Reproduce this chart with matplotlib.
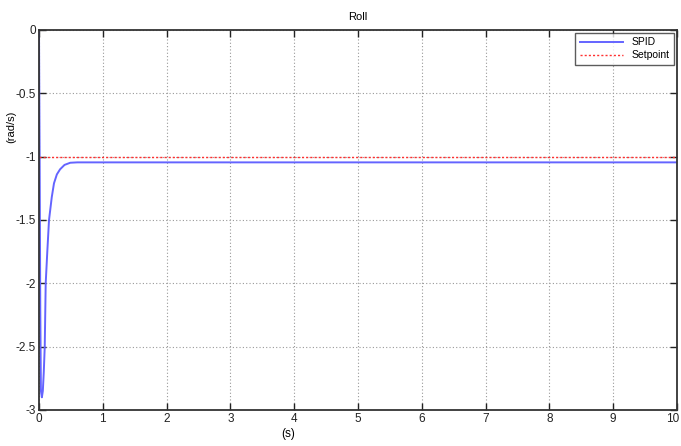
import matplotlib
matplotlib.use("Agg")
import matplotlib.pyplot as plt
import matplotlib.transforms as mtransforms
import numpy as np

plt.rcParams['font.family'] = ['Liberation Sans', 'DejaVu Sans']

t = [0, 0.01, 0.02, 0.03, 0.045, 0.06, 0.075, 0.09, 0.105, 0.13, 0.157, 0.2,
     0.235, 0.28, 0.33, 0.4, 0.49, 0.6, 10]
spid = [0, -1.0, -2.2, -2.85, -2.9, -2.85, -2.7, -2.5, -2.0, -1.75, -1.5, -1.32,
        -1.21, -1.14, -1.1, -1.065, -1.048, -1.045, -1.045]
setpoint_t = [0, 10]
setpoint = [-1, -1]
xticks = list(range(0, 11))
yticks = [0, -0.5, -1, -1.5, -2, -2.5, -3]
ytick_labels = ['0', '-0.5', '-1', '-1.5', '-2', '-2.5', '-3']

fig = plt.figure(figsize=(6.81, 4.46), dpi=100)
ax = fig.add_axes([39/681, 36/446, 638/681, 380/446])

ax.plot(t, spid, color='#6464ff', lw=1.4, label='SPID')
ax.plot(setpoint_t, setpoint, color='#ff3030', lw=1.0, ls=(0, (1.5, 1.5)), label='Setpoint')

ax.set_xlim(0, 10)
ax.set_ylim(-3, 0)
ax.set_xticks(xticks)
ax.set_yticks(yticks)
ax.set_yticklabels(ytick_labels)
ax.tick_params(direction='in', top=True, right=True, labelsize=8.5, colors='#222222', length=5, width=1, pad=2)
ax.grid(True, color='#999999', ls=(0, (1, 2)), lw=0.8)
for s in ax.spines.values():
    s.set_color('#333333')
    s.set_linewidth(1.3)

# keep the last x tick label inside the figure
last = ax.get_xticklabels()[-1]
last.set_transform(last.get_transform() + mtransforms.ScaledTranslation(-4/100, 0, fig.dpi_scale_trans))

ax.set_title('Roll', fontsize=8, pad=7)
ax.set_xlabel('(s)', fontsize=8.5)
ax.xaxis.set_label_coords(0.39, -0.047)
ax.set_ylabel('(rad/s)', fontsize=8)
ax.yaxis.set_label_coords(-0.035, 0.745)

leg = ax.legend(loc='upper right', fontsize=7.5, frameon=True, fancybox=False,
                edgecolor='#333333', borderpad=0.4, handlelength=4.2, labelspacing=0.3,
                borderaxespad=0.3)
leg.get_frame().set_linewidth(1.0)

fig.savefig('out.png', dpi=100, facecolor='white')
